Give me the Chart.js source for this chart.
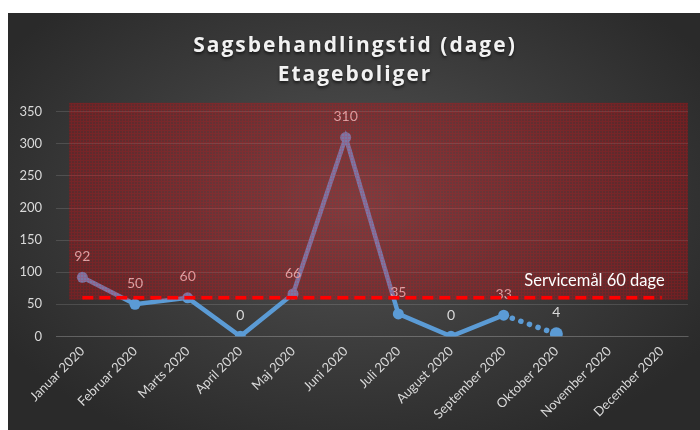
<!DOCTYPE html>
<html>
<head>
<meta charset="utf-8">
<script src="https://cdn.jsdelivr.net/npm/chart.js@4/dist/chart.umd.min.js"></script>
<style>
  html,body{margin:0;padding:0;background:#fff;width:700px;height:430px;overflow:hidden;}
  #wrap{position:absolute;left:8px;top:13px;width:692px;height:417px;
    background:radial-gradient(ellipse 60% 65% at 50% 45%, #545454 0%, #3c3c3c 55%, #2a2a2a 100%);}
  canvas{display:block;}
</style>
</head>
<body>
<div id="wrap"><canvas id="c" width="692" height="417"></canvas></div>
<script>
const categories = ["Januar 2020","Februar 2020","Marts 2020","April 2020","Maj 2020","Juni 2020","Juli 2020","August 2020","September 2020","Oktober 2020","November 2020","December 2020"];
const caseDays = [92, 50, 60, 0, 66, 310, 35, 0, 33, 4, null, null];
const serviceTarget = [60, 60, 60, 60, 60, 60, 60, 60, 60, 60, 60, 60];
const yTicks = [0, 50, 100, 150, 200, 250, 300, 350];
const redZone = {from: 57, to: 364};
const titleLines = ["Sagsbehandlingstid (dage)", "Etageboliger"];
const targetLabel = "Servicemål 60 dage";

const FONT = "Lato, 'Open Sans', sans-serif";
const TITLE_SIZE = 21, TITLE_LH = 1.4, TITLE_PAD_TOP = 18;

function makePattern(ctx){
  const p = document.createElement('canvas');
  p.width = 3; p.height = 3;
  const g = p.getContext('2d');
  g.fillStyle = 'rgba(225,0,10,0.23)';
  g.fillRect(0,0,3,3);
  g.fillStyle = 'rgba(255,10,20,0.15)';
  g.fillRect(0,0,3,1);
  g.fillRect(0,1,1,2);
  return ctx.createPattern(p,'repeat');
}

const overlayPlugin = {
  id: 'overlay',
  beforeDatasetDraw(chart, args){
    if (args.index !== 1) return;
    const ctx = chart.ctx;
    const xs = chart.scales.x, ys = chart.scales.y;
    const meta = chart.getDatasetMeta(0);
    ctx.save();
    ctx.fillStyle = '#d9d9d9';
    ctx.font = '14px ' + FONT;
    ctx.textAlign = 'center';
    ctx.textBaseline = 'middle';
    meta.data.forEach((pt, i) => {
      const v = caseDays[i];
      if (v === null) return;
      ctx.fillText(String(v), pt.x, pt.y - 21);
    });
    const left = xs.getPixelForValue(-0.25);
    const right = xs.getPixelForValue(categories.length - 0.5);
    const top = ys.getPixelForValue(redZone.to);
    const bottom = ys.getPixelForValue(redZone.from);
    ctx.fillStyle = makePattern(ctx);
    ctx.fillRect(left, top, right - left, bottom - top);
    ctx.restore();
  },
  afterDraw(chart){
    const ctx = chart.ctx;
    const xs = chart.scales.x, ys = chart.scales.y;
    ctx.save();
    ctx.fillStyle = '#ffffff';
    ctx.font = '16.5px ' + FONT;
    ctx.textAlign = 'right';
    ctx.textBaseline = 'middle';
    ctx.fillText(targetLabel, xs.getPixelForValue(categories.length - 1) + 3, ys.getPixelForValue(60) - 17);
    // title with letter spacing
    const tb = chart.titleBlock;
    const lh = TITLE_SIZE * TITLE_LH;
    ctx.font = "bold " + TITLE_SIZE + "px 'Open Sans', Lato, sans-serif";
    ctx.textAlign = 'center';
    ctx.letterSpacing = '2px';
    ctx.fillStyle = '#f2f2f2';
    ctx.shadowColor = 'rgba(0,0,0,0.6)';
    ctx.shadowBlur = 3;
    ctx.shadowOffsetY = 2;
    const cx = chart.width / 2;
    titleLines.forEach((t, i) => {
      ctx.fillText(t, cx + 1, tb.top + TITLE_PAD_TOP + lh * (i + 0.5));
    });
    ctx.restore();
  }
};

new Chart(document.getElementById('c'), {
  type: 'line',
  data: {
    labels: categories,
    datasets: [
      {
        data: caseDays,
        order: 2,
        borderColor: '#5b9bd5',
        backgroundColor: '#5b9bd5',
        borderWidth: 4.5,
        pointRadius: (c) => c.dataIndex === 9 ? 6.5 : 5.5,
        pointBorderWidth: 0,
        pointBackgroundColor: '#5b9bd5',
        tension: 0,
        spanGaps: false,
        segment: {
          borderDash: (c) => c.p0DataIndex === 8 ? [0.1, 9] : undefined,
          borderWidth: (c) => c.p0DataIndex === 8 ? 5.5 : undefined
        },
        borderCapStyle: 'round'
      },
      {
        data: serviceTarget,
        order: 1,
        borderColor: '#ff0000',
        borderWidth: 3.5,
        borderDash: [11, 6],
        pointRadius: 0,
        tension: 0,
        fill: false
      }
    ]
  },
  options: {
    responsive: false,
    animation: false,
    layout: { padding: { left: 0, right: 12, top: 0, bottom: 1 } },
    plugins: {
      legend: { display: false },
      tooltip: { enabled: false },
      title: {
        display: true,
        text: titleLines,
        color: 'rgba(0,0,0,0)',
        font: { family: "'Open Sans', Lato, sans-serif", size: TITLE_SIZE, weight: 'bold', lineHeight: TITLE_LH },
        padding: { top: TITLE_PAD_TOP, bottom: 22 }
      }
    },
    scales: {
      x: {
        offset: true,
        grid: { display: false, drawTicks: false },
        border: { display: true, color: 'rgba(255,255,255,0.13)', width: 1 },
        ticks: {
          color: '#d9d9d9',
          font: { family: FONT, size: 13 },
          maxRotation: 45, minRotation: 45,
          autoSkip: false,
          padding: 7
        }
      },
      y: {
        min: 0, max: 350,
        afterBuildTicks(scale){ scale.ticks = yTicks.map(v => ({value: v})); },
        afterFit(scale){ scale.width = 48; },
        grid: { color: 'rgba(255,255,255,0.13)', drawTicks: false, lineWidth: 1 },
        border: { display: false },
        ticks: {
          color: '#d9d9d9',
          font: { family: FONT, size: 13 },
          padding: 14
        }
      }
    }
  },
  plugins: [overlayPlugin]
});
</script>
</body>
</html>
